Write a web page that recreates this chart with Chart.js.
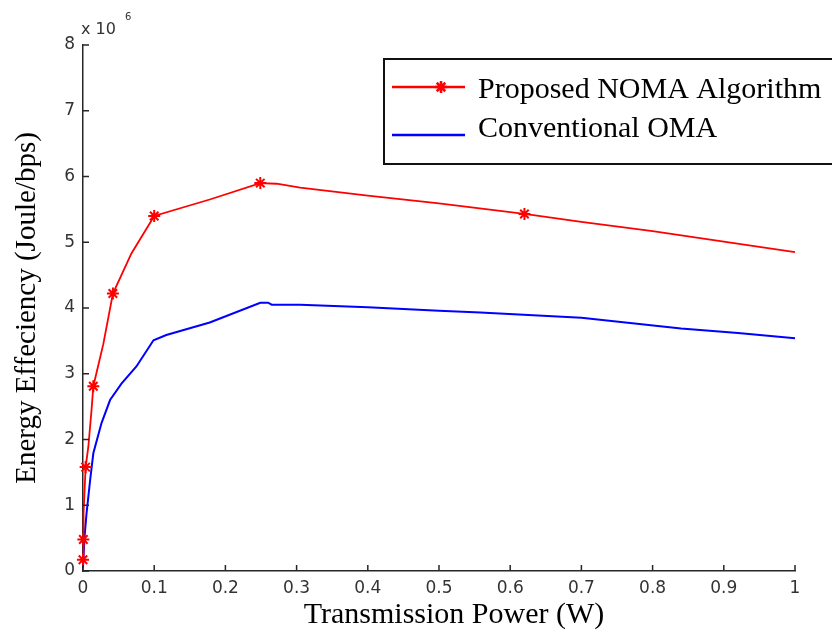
<!DOCTYPE html>
<html>
<head>
<meta charset="utf-8">
<script src="https://cdn.jsdelivr.net/npm/chart.js@4.4.0/dist/chart.umd.min.js"></script>
<style>
html, body { margin: 0; padding: 0; background: #fff; }
#wrap { width: 832px; height: 635px; }
</style>
</head>
<body>
<div id="wrap"><canvas id="eeChart" width="832" height="635"></canvas></div>
<script>
// transmission power (W) vs energy efficiency (x10^6 Joule/bps)
const nomaPower = [0, 0.0005, 0.001, 0.0037, 0.0075, 0.012, 0.0145, 0.0285, 0.042, 0.068, 0.1,
                   0.178, 0.249, 0.272, 0.305, 0.4, 0.5, 0.62, 0.7, 0.8, 0.9, 1.0];
const nomaEE    = [0.17, 0.48, 0.88, 1.58, 1.89, 2.45, 2.81, 3.45, 4.22, 4.83, 5.40,
                   5.65, 5.90, 5.89, 5.83, 5.71, 5.59, 5.43, 5.31, 5.17, 5.01, 4.85];
const nomaMarkers = [0, 1, 3, 6, 8, 10, 12, 17]; // points drawn with *

const omaPower = [0, 0.002, 0.005, 0.01, 0.0145, 0.026, 0.038, 0.054, 0.075, 0.099, 0.117,
                  0.178, 0.249, 0.26, 0.265, 0.305, 0.4, 0.5, 0.558, 0.7, 0.84, 0.92, 1.0];
const omaEE    = [0.05, 0.5, 0.88, 1.38, 1.79, 2.25, 2.6, 2.85, 3.11, 3.51, 3.59,
                  3.78, 4.08, 4.08, 4.05, 4.05, 4.01, 3.96, 3.93, 3.85, 3.69, 3.62, 3.54];

const xTicks = [0, 0.1, 0.2, 0.3, 0.4, 0.5, 0.6, 0.7, 0.8, 0.9, 1];
const yTicks = [0, 1, 2, 3, 4, 5, 6, 7, 8];
const yExponent = '6';
const xTitle = 'Transmission Power (W)';

const serif = '"Liberation Serif", "Times New Roman", serif';
const sans = '"DejaVu Sans", Arial, sans-serif';

const matlabLook = { // inward ticks, x10^6 label, x title, boxed legend
    id: 'matlabLook',
    beforeDraw(chart) {
        const ctx = chart.ctx;
        ctx.save();
        ctx.fillStyle = '#fff';
        ctx.fillRect(0, 0, chart.width, chart.height);
        ctx.restore();
    },
    afterDraw(chart) {
        const { ctx, chartArea: a } = chart;
        const xs = chart.scales.x, ys = chart.scales.y;
        ctx.save();
        ctx.strokeStyle = '#262626';
        ctx.lineWidth = 1.5;
        ctx.beginPath();
        xs.ticks.forEach(t => {
            const px = xs.getPixelForValue(t.value);
            ctx.moveTo(px, a.bottom);
            ctx.lineTo(px, a.bottom - 6);
        });
        ys.ticks.forEach(t => {
            const py = ys.getPixelForValue(t.value);
            ctx.moveTo(a.left, py);
            ctx.lineTo(a.left + 6, py);
        });
        ctx.stroke();

        ctx.fillStyle = '#333';
        ctx.textBaseline = 'alphabetic';
        ctx.textAlign = 'left';
        ctx.font = '16px ' + sans;
        ctx.fillText('x 10', 81, 34);
        ctx.font = '10px ' + sans;
        ctx.fillText(yExponent, 125, 20);

        // x axis title, sits a little right of the plot centre
        ctx.fillStyle = '#000';
        ctx.textAlign = 'center';
        ctx.font = '30px ' + serif;
        ctx.fillText(xTitle, 454, 623);
        ctx.textAlign = 'left';

        // legend
        ctx.fillStyle = '#fff';
        ctx.fillRect(384, 59, 470, 105);
        ctx.lineWidth = 2;
        ctx.strokeStyle = '#111';
        ctx.strokeRect(384, 59, 470, 105);
        const lineY = [87, 135], textY = [98, 137];
        chart.data.datasets.forEach((ds, i) => {
            ctx.strokeStyle = ds.borderColor;
            ctx.lineWidth = 2.5;
            ctx.beginPath();
            ctx.moveTo(392, lineY[i]);
            ctx.lineTo(465, lineY[i]);
            ctx.stroke();
            if (ds.legendMarker) {
                ctx.fillStyle = ds.borderColor;
                Chart.helpers.drawPoint(ctx, { pointStyle: 'star', radius: 6, rotation: 0, borderWidth: 2 }, 441, lineY[i]);
            }
            ctx.fillStyle = '#000';
            ctx.font = '30px ' + serif;
            ctx.fillText(ds.label, 478, textY[i]);
        });
        ctx.restore();
    }
};

const data = {
    datasets: [{
        label: 'Proposed NOMA Algorithm',
        data: nomaPower.map((p, i) => ({ x: p, y: nomaEE[i] })),
        borderColor: '#ff0000',
        backgroundColor: '#ff0000',
        borderWidth: 1.8,
        pointStyle: 'star',
        pointRadius: nomaPower.map((p, i) => nomaMarkers.includes(i) ? 6 : 0),
        pointBorderWidth: 2,
        legendMarker: true,
        order: 0,
        clip: false
    }, {
        label: 'Conventional OMA',
        data: omaPower.map((p, i) => ({ x: p, y: omaEE[i] })),
        borderColor: '#0000ff',
        backgroundColor: '#0000ff',
        borderWidth: 2,
        pointRadius: 0,
        legendMarker: false,
        order: 1,
        clip: false
    }]
};

const config = {
    type: 'line',
    data: data,
    plugins: [matlabLook],
    options: {
        responsive: false,
        animation: false,
        devicePixelRatio: 1,
        layout: { padding: { top: 45, right: 37, left: 0, bottom: 0 } },
        plugins: { legend: { display: false }, tooltip: { enabled: false } },
        scales: {
            x: {
                type: 'linear',
                min: 0, max: 1,
                afterBuildTicks: s => { s.ticks = xTicks.map(v => ({ value: v })); },
                afterFit: s => { s.height = 64; },
                grid: { display: false, drawTicks: false },
                border: { display: true, color: '#262626', width: 1.5 },
                ticks: {
                    padding: 7,
                    color: '#333',
                    font: { family: sans, size: 17 },
                    maxRotation: 0,
                    callback: v => String(+v.toFixed(1))
                }
            },
            y: {
                type: 'linear',
                min: 0, max: 8,
                afterBuildTicks: s => { s.ticks = yTicks.map(v => ({ value: v })); },
                afterFit: s => { s.width = 83; },
                grid: { display: false, drawTicks: false },
                border: { display: true, color: '#262626', width: 1.5 },
                ticks: {
                    padding: 8,
                    color: '#333',
                    font: { family: sans, size: 17 },
                    callback: v => String(v)
                },
                title: {
                    display: true,
                    text: 'Energy Effeciency (Joule/bps)',
                    color: '#000',
                    font: { family: serif, size: 29, lineHeight: 1.2 },
                    padding: { top: 10, bottom: 0 }
                }
            }
        }
    }
};

const eeChart = new Chart(document.getElementById('eeChart'), config);
</script>
</body>
</html>
